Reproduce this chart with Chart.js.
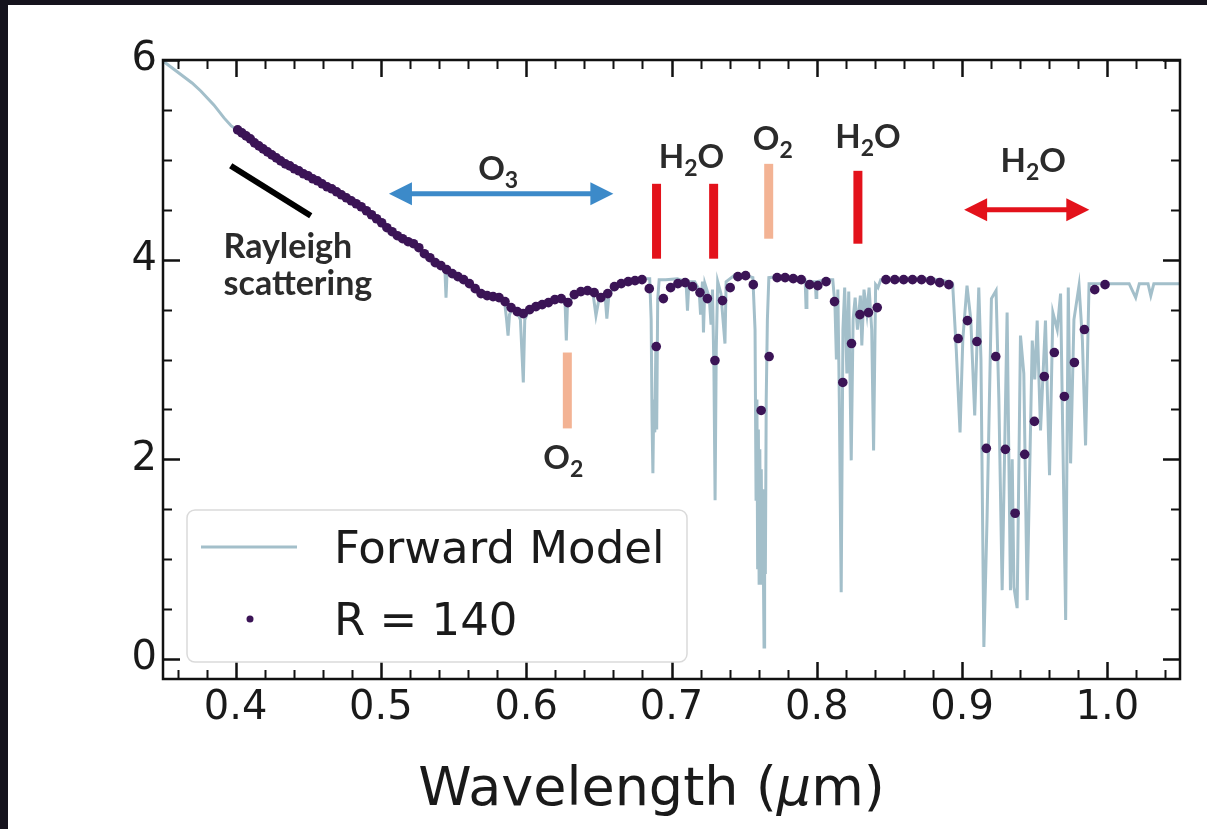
<!DOCTYPE html>
<html>
<head>
<meta charset="utf-8">
<title>Transmission spectrum</title>
<script src="https://cdn.jsdelivr.net/npm/chart.js@4.4.1/dist/chart.umd.min.js"></script>
<style>
  html, body { margin: 0; padding: 0; background: #15131d; }
  #wrap { position: relative; width: 1207px; height: 829px; overflow: hidden; }
  #paper { position: absolute; left: 8px; top: 5px; right: 0; bottom: 0; background: #fff; }
  #spectrum { position: absolute; left: 0; top: 0; }
</style>
</head>
<body>
<div id="wrap"><div id="paper"></div><canvas id="spectrum" width="1207" height="829"></canvas></div>
<script>
// tick labels
var xMajor = [0.4, 0.5, 0.6, 0.7, 0.8, 0.9, 1.0];
var yMajor = [0, 2, 4, 6];

// high resolution forward model (wavelength in micron)
var modelWave = [
    0.350, 0.360, 0.370, 0.376, 0.385, 0.392, 0.397, 0.401,
    0.410, 0.420, 0.430, 0.440, 0.450, 0.460, 0.470, 0.480, 0.490, 0.500, 0.510, 0.520, 0.530, 0.540,
    0.5440, 0.5448, 0.5456, 0.550, 0.560, 0.565, 0.570, 0.580, 0.585, 0.5865, 0.5875, 0.5885, 0.590, 0.594, 0.596, 0.5980, 0.5990, 0.602,
    0.610, 0.620, 0.624, 0.6268, 0.6276, 0.6284, 0.632, 0.640, 0.646, 0.6480, 0.6500, 0.6545, 0.6555, 0.6570, 0.662, 0.670, 0.680,
    0.6850, 0.6860, 0.6866, 0.6872, 0.6878, 0.6885, 0.6892, 0.6898, 0.6905, 0.6915,
    0.696, 0.704, 0.7100, 0.7110, 0.7120, 0.716, 0.7190, 0.7200, 0.7213, 0.7220, 0.7230, 0.7260, 0.7272, 0.7282, 0.7292, 0.7300, 0.7308, 0.7318, 0.7340, 0.7368, 0.7376, 0.744, 0.752,
    0.7560, 0.7575, 0.7582, 0.7588, 0.7593, 0.7598, 0.7603, 0.7608, 0.7613, 0.7618, 0.7623, 0.7628, 0.7633, 0.7637, 0.7641, 0.7646, 0.7652, 0.7660, 0.7670,
    0.772, 0.780, 0.786, 0.7920, 0.7926, 0.7932, 0.7990, 0.7995, 0.8000, 0.806,
    0.8110, 0.8125, 0.8135, 0.8145, 0.8155, 0.8168, 0.8180, 0.8192, 0.8207, 0.8220, 0.8237, 0.8250, 0.8264, 0.8280, 0.8300, 0.8310, 0.8325, 0.8345, 0.8360, 0.8378, 0.8391, 0.8405, 0.8421, 0.8440,
    0.860, 0.875, 0.885, 0.890, 0.8935,
    0.8960, 0.8986, 0.9005, 0.9034, 0.9060, 0.9087, 0.9115, 0.9130, 0.9150, 0.9172, 0.9202, 0.9234, 0.9253, 0.9276, 0.9310, 0.9333, 0.9345, 0.9357, 0.9379, 0.9402,
    0.9425, 0.9448, 0.9483, 0.9500, 0.9517, 0.9540, 0.9574, 0.9602, 0.9625, 0.9655, 0.9678, 0.9713, 0.9731, 0.9747, 0.9770, 0.9805, 0.9828, 0.9850, 0.9874,
    0.995, 1.005, 1.0150, 1.0195, 1.0220, 1.0280, 1.0299, 1.0320, 1.040, 1.050
];
var modelFlux = [
    5.99, 5.88, 5.77, 5.69, 5.55, 5.42, 5.34, 5.30,
    5.21, 5.10, 5.00, 4.92, 4.84, 4.76, 4.68, 4.59, 4.49, 4.38, 4.26, 4.18, 4.06, 3.95,
    3.91, 3.62, 3.90, 3.85, 3.77, 3.72, 3.65, 3.63, 3.59, 3.40, 3.24, 3.45, 3.50, 3.47, 3.40, 2.77, 3.40, 3.50,
    3.55, 3.60, 3.61, 3.55, 3.19, 3.55, 3.63, 3.69, 3.66, 3.44, 3.60, 3.60, 3.41, 3.66, 3.74, 3.79, 3.81,
    3.81, 3.40, 2.40, 1.86, 2.60, 2.27, 3.10, 2.30, 3.60, 3.80,
    3.80, 3.81, 3.78, 3.49, 3.78, 3.78, 3.70, 3.45, 3.78, 3.27, 3.76, 3.62, 3.35, 3.70, 2.90, 1.59, 3.10, 3.78, 3.66, 3.16, 3.78, 3.85, 3.84,
    3.82, 3.30, 1.60, 2.60, 0.90, 2.30, 0.76, 2.10, 0.78, 1.90, 0.76, 1.70, 0.80, 0.12, 1.00, 0.85, 2.60, 3.40, 3.82,
    3.83, 3.83, 3.82, 3.80, 3.52, 3.78, 3.78, 3.62, 3.78, 3.80,
    3.80, 3.55, 3.00, 3.70, 2.60, 0.67, 3.30, 3.72, 2.86, 3.68, 1.99, 3.40, 3.62, 3.30, 3.64, 3.14, 3.70, 3.46, 3.72, 3.30, 2.09, 3.75, 3.72, 3.80,
    3.81, 3.81, 3.80, 3.78, 3.76,
    3.10, 2.27, 3.20, 3.74, 3.40, 2.44, 3.72, 3.00, 0.12, 1.41, 3.61, 3.69, 2.62, 0.69, 3.47, 0.69, 2.00, 0.72, 0.51, 3.24,
    2.86, 0.59, 3.19, 2.80, 3.39, 2.29, 3.39, 1.84, 3.47, 3.30, 3.66, 0.39, 3.72, 1.96, 3.40, 3.74, 3.20, 2.14, 3.76,
    3.76, 3.76, 3.76, 3.62, 3.76, 3.76, 3.64, 3.76, 3.76, 3.76
];

// binned spectrum at R = 140
var r140Wave = [
    0.4014, 0.4043, 0.4072, 0.4101, 0.4130, 0.4160, 0.4189, 0.4219, 0.4249, 0.4280,
    0.4310, 0.4342, 0.4373, 0.4404, 0.4435, 0.4467, 0.4499, 0.4531, 0.4563, 0.4595,
    0.4629, 0.4662, 0.4695, 0.4728, 0.4762, 0.4796, 0.4830, 0.4864, 0.4900, 0.4935,
    0.4970, 0.5005, 0.5041, 0.5077, 0.5113, 0.5149, 0.5187, 0.5224, 0.5261, 0.5299,
    0.5337, 0.5374, 0.5413, 0.5452, 0.5491, 0.5530, 0.5569, 0.5609, 0.5649, 0.5689,
    0.5731, 0.5772, 0.5813, 0.5854, 0.5896, 0.5938, 0.5980, 0.6024, 0.6067, 0.6110,
    0.6153, 0.6197, 0.6241, 0.6287, 0.6331, 0.6376, 0.6422, 0.6468, 0.6514, 0.6561,
    0.6607, 0.6654, 0.6702, 0.6749, 0.6797,
    0.6847, 0.6895, 0.6944, 0.6994, 0.7044, 0.7094, 0.7145, 0.7196, 0.7247, 0.7299,
    0.7351, 0.7404, 0.7457, 0.7510, 0.7563, 0.7617, 0.7672, 0.7727, 0.7782, 0.7838,
    0.7893, 0.7951, 0.8007, 0.8064, 0.8122, 0.8179, 0.8239, 0.8297, 0.8356, 0.8416,
    0.8476, 0.8537, 0.8598, 0.8659, 0.8721, 0.8784, 0.8846,
    0.8909, 0.8973, 0.9037, 0.9102, 0.9167, 0.9232, 0.9298, 0.9365, 0.9431,
    0.9498, 0.9566, 0.9635, 0.9704, 0.9773, 0.9842, 0.9913, 0.9984
];
var r140Flux = [
    5.30, 5.27, 5.24, 5.21, 5.17, 5.14, 5.11, 5.08, 5.05, 5.02,
    4.99, 4.96, 4.94, 4.91, 4.89, 4.86, 4.84, 4.81, 4.79, 4.76,
    4.73, 4.71, 4.68, 4.65, 4.62, 4.59, 4.56, 4.53, 4.49, 4.45,
    4.41, 4.37, 4.32, 4.28, 4.24, 4.21, 4.18, 4.16, 4.12, 4.06,
    4.02, 3.97, 3.94, 3.90, 3.86, 3.83, 3.80, 3.76, 3.71, 3.66,
    3.64, 3.63, 3.62, 3.58, 3.52, 3.48, 3.46, 3.50, 3.53, 3.55,
    3.57, 3.60, 3.61, 3.57, 3.65, 3.68, 3.69, 3.67, 3.62, 3.66,
    3.73, 3.76, 3.78, 3.79, 3.80,
    3.71, 3.13, 3.61, 3.72, 3.76, 3.77, 3.73, 3.67, 3.61, 2.99,
    3.59, 3.72, 3.83, 3.84, 3.75, 2.49, 3.03, 3.82, 3.82, 3.81,
    3.80, 3.75, 3.74, 3.78, 3.58, 2.77, 3.16, 3.45, 3.47, 3.52,
    3.80, 3.80, 3.80, 3.80, 3.80, 3.79, 3.77,
    3.75, 3.21, 3.39, 3.18, 2.11, 3.03, 2.10, 1.46, 2.05,
    2.38, 2.83, 3.07, 2.63, 2.97, 3.30, 3.70, 3.75
];

var modelColor = '#a3bfca';
var dotColor = '#3b1456';
var tickFont = 'DejaVu Sans';

function toPoints(xs, ys) {
    return xs.map(function (x, i) { return { x: x, y: ys[i] }; });
}

// inward ticks on all four sides plus the box
var frameTicks = {
    id: 'frameTicks',
    afterDatasetsDraw: function (chart) {
        var ctx = chart.ctx, a = chart.chartArea;
        var xs = chart.scales.x, ys = chart.scales.y;
        var xMinor = [], yMinor = [], k;
        for (k = 18; k <= 52; k++) { if (k % 5) xMinor.push(k / 50); }
        for (k = 1; k <= 11; k++) { if (k % 4) yMinor.push(k / 2); }

        ctx.save();
        ctx.strokeStyle = '#111';
        function xTicks(vals, len, w) {
            ctx.lineWidth = w;
            ctx.beginPath();
            vals.forEach(function (v) {
                var px = Math.round(xs.getPixelForValue(v)) + 0.5;
                ctx.moveTo(px, a.bottom); ctx.lineTo(px, a.bottom - len);
                ctx.moveTo(px, a.top); ctx.lineTo(px, a.top + len);
            });
            ctx.stroke();
        }
        function yTicks(vals, len, w) {
            ctx.lineWidth = w;
            ctx.beginPath();
            vals.forEach(function (v) {
                var py = Math.round(ys.getPixelForValue(v)) + 0.5;
                ctx.moveTo(a.left, py); ctx.lineTo(a.left + len, py);
                ctx.moveTo(a.right, py); ctx.lineTo(a.right - len, py);
            });
            ctx.stroke();
        }
        xTicks(xMajor, 17, 2.5);
        xTicks(xMinor, 9, 2);
        yTicks(yMajor, 17, 2.5);
        yTicks(yMinor, 9, 2);
        ctx.lineWidth = 2.5;
        ctx.strokeRect(a.left, a.top, a.right - a.left, a.bottom - a.top);
        ctx.restore();
    }
};

// molecule formula with subscripts, centred on (cx, cy)
function drawFormula(ctx, parts, cx, cy, size) {
    var big = 'bold ' + size + 'px Lato';
    var small = 'bold ' + Math.round(size * 0.7) + 'px Lato';
    var w = 0;
    parts.forEach(function (p) {
        ctx.font = p[1] ? small : big;
        w += ctx.measureText(p[0]).width;
    });
    var x = cx - w / 2;
    var base = cy + size * 0.36;
    ctx.textAlign = 'left';
    ctx.textBaseline = 'alphabetic';
    parts.forEach(function (p) {
        ctx.font = p[1] ? small : big;
        ctx.fillText(p[0], x, p[1] ? base + size * 0.24 : base);
        x += ctx.measureText(p[0]).width;
    });
}

function drawDoubleArrow(ctx, x1, x2, y, color) {
    var head = 23, half = 11.5;
    ctx.fillStyle = color;
    ctx.strokeStyle = color;
    ctx.lineWidth = 5;
    ctx.beginPath();
    ctx.moveTo(x1 + head - 2, y); ctx.lineTo(x2 - head + 2, y);
    ctx.stroke();
    ctx.beginPath();
    ctx.moveTo(x1, y); ctx.lineTo(x1 + head, y - half); ctx.lineTo(x1 + head, y + half); ctx.closePath();
    ctx.fill();
    ctx.beginPath();
    ctx.moveTo(x2, y); ctx.lineTo(x2 - head, y - half); ctx.lineTo(x2 - head, y + half); ctx.closePath();
    ctx.fill();
}

var H2O = [['H', 0], ['2', 1], ['O', 0]];
var O2 = [['O', 0], ['2', 1]];
var O3 = [['O', 0], ['3', 1]];

var annotations = {
    id: 'annotations',
    afterDatasetsDraw: function (chart) {
        var ctx = chart.ctx;
        var xs = chart.scales.x, ys = chart.scales.y;
        function X(v) { return xs.getPixelForValue(v); }
        function Y(v) { return ys.getPixelForValue(v); }
        function bar(w, lo, hi, color) {
            ctx.strokeStyle = color;
            ctx.lineWidth = 9;
            ctx.beginPath();
            ctx.moveTo(X(w), Y(hi)); ctx.lineTo(X(w), Y(lo));
            ctx.stroke();
        }
        ctx.save();

        // Rayleigh slope guide
        ctx.strokeStyle = '#000';
        ctx.lineWidth = 6;
        ctx.beginPath();
        ctx.moveTo(X(0.3966), Y(4.94)); ctx.lineTo(X(0.4517), Y(4.44));
        ctx.stroke();
        ctx.fillStyle = '#2b2b2b';
        ctx.font = 'bold 34px Lato';
        ctx.textAlign = 'left';
        ctx.textBaseline = 'alphabetic';
        ctx.fillText('Rayleigh', X(0.3917), Y(4.02));
        ctx.fillText('scattering', X(0.3917), Y(3.65));

        // ozone band
        drawDoubleArrow(ctx, X(0.5055), X(0.660), Y(4.66), '#3c8ac9');
        ctx.fillStyle = '#2b2b2b';
        drawFormula(ctx, O3, X(0.5807), Y(4.92), 33);

        // single line markers
        bar(0.6897, 4.01, 4.76, '#e3121b');
        bar(0.7290, 4.01, 4.76, '#e3121b');
        bar(0.8283, 4.16, 4.89, '#e3121b');
        bar(0.7669, 4.21, 4.96, '#f3b394');
        bar(0.6283, 2.31, 3.07, '#f3b394');
        ctx.fillStyle = '#2b2b2b';
        drawFormula(ctx, H2O, X(0.7138), Y(5.04), 33);
        drawFormula(ctx, O2, X(0.7697), Y(5.22), 33);
        drawFormula(ctx, H2O, X(0.8352), Y(5.24), 33);
        drawFormula(ctx, O2, X(0.6255), Y(2.02), 33);

        // broad water band
        drawDoubleArrow(ctx, X(0.9014), X(0.9876), Y(4.50), '#e3121b');
        ctx.fillStyle = '#2b2b2b';
        drawFormula(ctx, H2O, X(0.949), Y(5.00), 33);
        ctx.restore();
    },
    afterDraw: function (chart) {
        var ctx = chart.ctx, a = chart.chartArea;
        ctx.save();

        // axis title with italic mu
        var parts = [['Wavelength (', ''], ['\u03bc', 'oblique '], ['m)', '']];
        var size = 54, w = 0;
        parts.forEach(function (p) {
            ctx.font = p[1] + size + 'px ' + tickFont;
            w += ctx.measureText(p[0]).width;
        });
        var x = (a.left + a.right) / 2 - w / 2 - 20;
        ctx.fillStyle = '#1a1a1a';
        ctx.textAlign = 'left';
        ctx.textBaseline = 'alphabetic';
        parts.forEach(function (p) {
            ctx.font = p[1] + size + 'px ' + tickFont;
            ctx.fillText(p[0], x, a.bottom + 126);
            x += ctx.measureText(p[0]).width;
        });

        // legend
        var lx = a.left + 24, ly = a.bottom - 169, lw = 500, lh = 152;
        ctx.beginPath();
        ctx.roundRect(lx, ly, lw, lh, 8);
        ctx.fillStyle = 'rgba(255,255,255,0.85)';
        ctx.fill();
        ctx.strokeStyle = '#dadada';
        ctx.lineWidth = 1.5;
        ctx.stroke();

        var ds = chart.data.datasets;
        ctx.strokeStyle = modelColor;
        ctx.lineWidth = 3;
        ctx.beginPath();
        ctx.moveTo(lx + 14, ly + 37); ctx.lineTo(lx + 110, ly + 37);
        ctx.stroke();
        ctx.fillStyle = dotColor;
        ctx.beginPath();
        ctx.arc(lx + 63, ly + 109, 3.5, 0, Math.PI * 2);
        ctx.fill();
        ctx.fillStyle = '#1a1a1a';
        ctx.font = '45px ' + tickFont;
        ctx.fillText(ds[1].label, lx + 147, ly + 37 + 16);
        ctx.fillText(ds[0].label, lx + 147, ly + 109 + 16);
        ctx.restore();
    }
};

var ctx = document.getElementById('spectrum').getContext('2d');
var spectrumChart = new Chart(ctx, {
    type: 'scatter',
    data: {
        datasets: [{
            label: 'R = 140',
            data: toPoints(r140Wave, r140Flux),
            backgroundColor: dotColor,
            borderWidth: 0,
            pointRadius: 4.8,
            pointHoverRadius: 4.8,
            order: 0
        }, {
            label: 'Forward Model',
            type: 'line',
            data: toPoints(modelWave, modelFlux),
            borderColor: modelColor,
            borderWidth: 3,
            pointRadius: 0,
            fill: false,
            tension: 0,
            order: 1
        }]
    },
    options: {
        responsive: false,
        animation: false,
        events: [],
        layout: { padding: { left: 0, top: 60, right: 27, bottom: 0 } },
        plugins: { legend: { display: false }, tooltip: { enabled: false } },
        scales: {
            x: {
                type: 'linear',
                min: 0.35,
                max: 1.05,
                grid: { display: false, drawTicks: false },
                border: { display: false },
                afterBuildTicks: function (s) { s.ticks = xMajor.map(function (v) { return { value: v }; }); },
                afterFit: function (s) { s.height = 150; },
                ticks: {
                    padding: 6,
                    autoSkip: false,
                    maxRotation: 0,
                    color: '#1a1a1a',
                    font: { family: tickFont, size: 40 },
                    callback: function (v) { return v.toFixed(1); }
                }
            },
            y: {
                min: -0.2,
                max: 6,
                grid: { display: false, drawTicks: false },
                border: { display: false },
                afterBuildTicks: function (s) { s.ticks = yMajor.map(function (v) { return { value: v }; }); },
                afterFit: function (s) { s.width = 163; },
                ticks: {
                    padding: 6,
                    color: '#1a1a1a',
                    font: { family: tickFont, size: 40 },
                    callback: function (v) { return String(v); }
                }
            }
        }
    },
    plugins: [frameTicks, annotations]
});
</script>
</body>
</html>
